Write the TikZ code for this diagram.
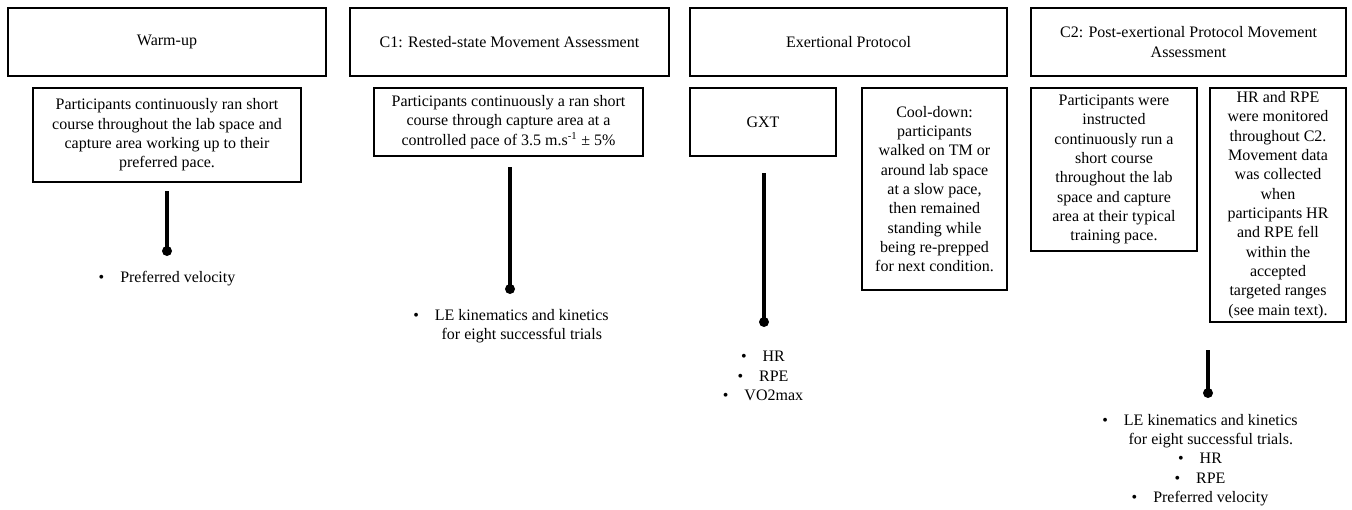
\documentclass[tikz,border=0pt]{standalone}
\usepackage{fontspec}
\setmainfont{Liberation Serif}
\newcommand{\bul}{\textbullet\hspace{1em}}
\newcommand{\bulph}{\hphantom{\textbullet\hspace{1em}}}
\begin{document}
\begin{tikzpicture}[x=0.75pt,y=-0.75pt]
\tikzset{
  box/.style={draw, line width=1.1pt, rectangle, inner sep=1pt, align=center,
    font=\fontsize{12}{14.5}\selectfont},
  conn/.style={line width=2.4pt},
  dotnode/.style={circle, fill, inner sep=0pt, minimum size=7.5pt},
  lbl/.style={align=center, inner sep=0pt, font=\fontsize{12}{14.5}\selectfont}
}
\useasboundingbox[fill=white] (0,0) rectangle (1352,510);

% header boxes
\node[box, minimum width=238.5pt, minimum height=51pt] (hW) at (167,42) {Warm-up};
\node[box, minimum width=239.25pt, minimum height=51pt] (hC1) at (509.5,42) {C1: Rested-state Movement Assessment};
\node[box, minimum width=237.75pt, minimum height=51pt] (hEx) at (848.5,42) {Exertional Protocol};
\node[box, minimum width=236.25pt, minimum height=51pt] (hC2) at (1188.5,42) {C2: Post-exertional Protocol Movement\\Assessment};

% description boxes
\node[box, minimum width=201pt, minimum height=70.5pt] (dW) at (167,135)
  {Participants continuously ran short\\course throughout the lab space and\\capture area working up to their\\preferred pace.};
\node[box, minimum width=201.75pt, minimum height=51pt] (dC1) at (508.5,122)
  {Participants continuously a ran short\\course through capture area at a\\controlled pace of 3.5 m.s\textsuperscript{-1} ± 5\%};
\node[box, minimum width=109.5pt, minimum height=51pt] (dG) at (763,122) {GXT};
\node[box, minimum width=108.75pt, minimum height=151.5pt] (dCool) at (934.5,189)
  {Cool-down:\\participants\\walked on TM or\\around lab space\\at a slow pace,\\then remained\\standing while\\being re-prepped\\for next condition.};
\node[box, minimum width=124.5pt, minimum height=122.25pt] (dC2a) at (1114,169.5)
  {Participants were\\instructed\\continuously run a\\short course\\throughout the lab\\space and capture\\area at their typical\\training pace.};
\node[box, minimum width=102pt, minimum height=175.5pt, inner sep=0pt] (dC2b) at (1278,205)
  {HR and RPE\\were monitored\\throughout C2.\\Movement data\\was collected\\when\\participants HR\\and RPE fell\\within the\\accepted\\targeted ranges\\(see main text).};

% connectors
\coordinate (tW) at (167,191);
\node[dotnode] (eW) at (167,251) {};
\coordinate (tC1) at (510,167);
\node[dotnode] (eC1) at (510,289) {};
\coordinate (tG) at (764,173);
\node[dotnode] (eG) at (764,322) {};
\coordinate (tC2) at (1208,350);
\node[dotnode] (eC2) at (1208,393) {};
\draw[conn] (tW) -- (eW.center);
\draw[conn] (tC1) -- (eC1.center);
\draw[conn] (tG) -- (eG.center);
\draw[conn] (tC2) -- (eC2.center);

% outcome lists
\node[lbl] (lW) at (167,279) {\bul Preferred velocity};
\node[lbl] (lC1) at (511,326.5) {\bul LE kinematics and kinetics\\\bulph for eight successful trials};
\node[lbl] (lG) at (763,376) {\bul HR\\\bul RPE\\\bul VO2max};
\node[lbl] (lC2) at (1200,460) {\bul LE kinematics and kinetics\\\bulph for eight successful trials.\\\bul HR\\\bul RPE\\\bul Preferred velocity};
\end{tikzpicture}
\end{document}
